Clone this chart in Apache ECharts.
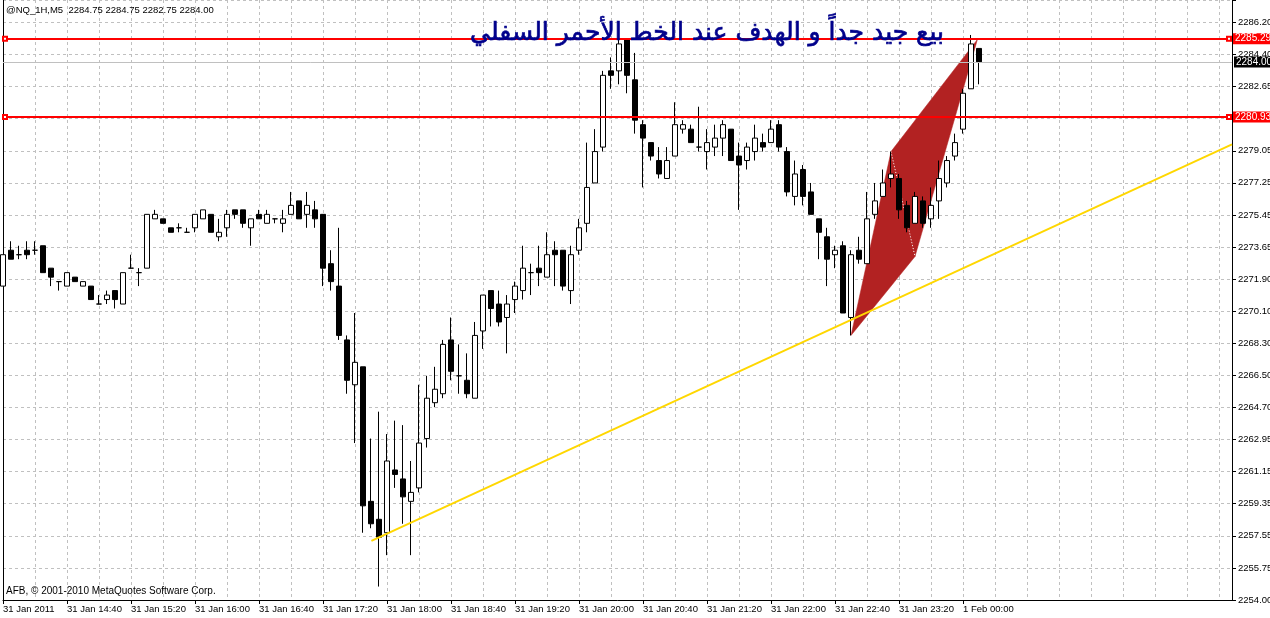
<!DOCTYPE html>
<html><head><meta charset="utf-8">
<script src="https://cdn.jsdelivr.net/npm/echarts@6/dist/echarts.min.js"></script>
<style>html,body{margin:0;padding:0;background:#fff}#c{width:1270px;height:618px}</style>
</head><body><div id="c"></div>
<script>
// ---- data ----
const timeLabels = ['31 Jan 2011','31 Jan 14:40','31 Jan 15:20','31 Jan 16:00','31 Jan 16:40','31 Jan 17:20','31 Jan 18:00','31 Jan 18:40','31 Jan 19:20','31 Jan 20:00','31 Jan 20:40','31 Jan 21:20','31 Jan 22:00','31 Jan 22:40','31 Jan 23:20','1 Feb 00:00'];
const barsPerLabel = 8;

const opens = [
2271.5,2273.5,2273.25,2273.5,2273.5,2273.75,2272.5,2271.75,2271.5,2272.0,
2271.5,2271.5,2270.5,2270.75,2271.25,2270.5,2272.5,2272.25,2272.5,2275.25,
2275.25,2274.75,2274.75,2274.5,2274.75,2275.25,2275.5,2274.25,2274.75,2275.75,
2275.75,2274.75,2275.5,2275.0,2275.25,2275.0,2275.5,2276.25,2275.5,2275.75,
2275.5,2272.75,2271.5,2268.5,2266.0,2267.0,2259.5,2258.5,2257.75,2261.25,
2260.75,2259.5,2260.25,2263.0,2265.0,2265.5,2268.5,2266.5,2266.25,2265.25,
2269.0,2271.25,2270.5,2269.75,2270.75,2271.25,2272.25,2272.5,2272.0,2273.5,
2273.5,2271.25,2273.5,2275.0,2277.25,2279.25,2283.5,2283.5,2285.25,2283.0,
2280.5,2279.5,2278.5,2277.5,2278.75,2280.25,2280.25,2279.25,2279.0,2279.25,
2279.75,2280.25,2278.75,2278.5,2279.0,2279.5,2279.5,2280.5,2279.0,2276.5,
2278.0,2276.75,2275.25,2274.25,2273.25,2273.75,2269.75,2273.5,2272.75,2275.5,
2276.5,2277.5,2277.5,2276.0,2275.0,2276.25,2275.25,2276.25,2277.25,2278.75,
2280.25,2282.5,2284.75];
const highs = [
2273.25,2274.0,2273.75,2274.0,2274.0,2273.75,2272.5,2271.75,2272.25,2272.0,
2271.75,2271.5,2271.0,2271.25,2271.25,2272.25,2273.25,2272.5,2275.5,2275.75,
2275.25,2274.75,2275.0,2274.75,2275.5,2275.75,2275.5,2275.25,2275.75,2275.75,
2275.75,2275.25,2275.75,2275.75,2275.25,2275.75,2276.75,2276.25,2276.75,2276.25,
2275.5,2273.5,2274.75,2268.75,2270.0,2267.0,2263.0,2264.5,2263.25,2264.0,
2263.75,2261.75,2266.0,2266.5,2267.0,2268.5,2269.75,2268.25,2267.75,2269.5,
2271.0,2271.25,2271.25,2271.0,2271.75,2273.75,2272.75,2273.75,2274.5,2274.0,
2273.5,2273.75,2275.25,2279.5,2280.25,2283.5,2284.25,2285.75,2285.25,2284.5,
2280.75,2279.5,2279.25,2279.25,2281.75,2280.75,2280.5,2281.5,2280.25,2280.5,
2280.75,2280.25,2279.5,2279.5,2280.5,2280.0,2280.75,2280.75,2279.25,2278.5,
2278.25,2277.25,2275.25,2274.75,2273.75,2274.0,2273.5,2274.25,2276.75,2277.25,
2278.0,2279.0,2277.75,2276.25,2276.75,2276.5,2277.0,2278.5,2278.75,2280.0,
2282.5,2285.5,2284.75];
const lows = [
2271.5,2273.0,2273.0,2273.0,2273.25,2272.25,2271.5,2271.25,2271.5,2271.75,
2271.5,2270.75,2270.5,2270.5,2270.25,2270.5,2272.5,2271.5,2272.5,2275.25,
2275.0,2274.5,2274.5,2274.5,2274.5,2275.25,2274.5,2274.0,2274.25,2275.25,
2274.75,2273.75,2275.25,2275.0,2275.0,2274.5,2275.5,2275.25,2274.75,2274.75,
2271.5,2271.25,2268.5,2265.5,2262.75,2257.75,2258.0,2254.75,2256.5,2260.25,
2258.25,2256.5,2260.0,2262.5,2264.75,2265.25,2266.25,2265.5,2265.25,2265.25,
2268.0,2269.25,2269.25,2267.75,2270.0,2270.75,2271.0,2271.5,2272.0,2271.5,
2271.25,2270.5,2273.25,2274.5,2277.25,2279.0,2282.5,2282.75,2282.25,2280.0,
2277.0,2278.5,2277.5,2277.5,2278.75,2280.0,2279.5,2279.0,2278.0,2278.75,
2278.75,2278.5,2275.75,2278.0,2278.5,2279.0,2279.5,2279.0,2276.5,2276.0,
2276.0,2275.5,2273.0,2271.5,2272.5,2270.0,2268.75,2272.75,2272.75,2275.25,
2276.5,2277.0,2275.25,2274.5,2275.0,2274.75,2274.75,2275.25,2277.0,2278.5,
2280.0,2282.5,2282.75];
const closes = [
2273.25,2273.0,2273.25,2273.25,2273.5,2272.25,2272.0,2271.75,2272.25,2271.75,
2271.75,2270.75,2270.5,2271.0,2270.75,2272.25,2272.5,2272.25,2275.5,2275.5,
2275.0,2274.5,2274.75,2274.5,2275.5,2275.75,2274.5,2274.5,2275.5,2275.5,
2275.0,2275.25,2275.25,2275.5,2275.25,2275.25,2276.0,2275.25,2276.0,2275.25,
2272.5,2271.75,2268.75,2266.25,2267.25,2259.25,2258.25,2257.5,2261.75,2261.0,
2259.75,2260.0,2262.75,2265.25,2265.75,2268.25,2266.75,2266.5,2265.5,2268.75,
2271.0,2270.25,2269.5,2270.5,2271.5,2272.5,2272.25,2272.25,2273.25,2273.25,
2271.5,2273.25,2274.75,2277.0,2279.0,2283.25,2283.25,2285.0,2283.25,2280.75,
2279.75,2278.75,2277.75,2278.5,2280.5,2280.5,2279.5,2279.25,2279.5,2279.75,
2280.5,2278.5,2278.25,2279.25,2279.75,2279.25,2280.25,2279.25,2276.75,2277.75,
2276.5,2275.5,2274.5,2273.0,2273.5,2270.0,2273.25,2273.0,2275.25,2276.25,
2277.25,2277.75,2275.75,2274.75,2276.5,2275.0,2276.0,2277.5,2278.5,2279.5,
2282.25,2285.0,2284.0];

const yTickLabels = [2254.00,2255.75,2257.55,2259.35,2261.15,2262.95,2264.70,2266.50,2268.30,2270.10,2271.90,2273.65,2275.45,2277.25,2279.05,2280.85,2282.65,2284.40,2286.20];
const levelLines = [2285.29, 2280.93];
const bidPrice = 2284.00;
const trendBars = [46.05, 153.625];
const trendPrices = [2257.3, 2279.4];
const patternBars = [106, 111, 114, 121.8];
const patternPrices = [2268.75, 2279.0, 2273.15, 2285.25];
const patternTriangles = [[0,1,2],[1,2,3]];
const headerText = '@NQ_1H,M5  2284.75 2284.75 2282.75 2284.00';
const titleText = 'بيع جيد جداً و الهدف عند الخط الأحمر السفلي';
const footerText = 'AFB, © 2001-2010 MetaQuotes Software Corp.';

// ---- chart ----
const FONT = "'Liberation Sans', Arial, sans-serif";
const yMin = 2254, yMax = 2287.45;
const yStep = (yTickLabels[yTickLabels.length-1] - yTickLabels[0]) / (yTickLabels.length - 1);
const xMin = 0, xMax = 153.625;
const labelBars = timeLabels.map((_, k) => k * barsPerLabel);
const gridColor = '#C0C0C0';

const chart = echarts.init(document.getElementById('c'), null, {renderer: 'canvas'});
chart.setOption({
  animation: false,
  backgroundColor: '#fff',
  grid: {left: 3, right: 38, top: 0, bottom: 18, containLabel: false, outerBoundsMode: 'none'},
  xAxis: [
    {type: 'value', min: xMin, max: xMax, interval: 4,
     axisLine: {show: true, onZero: false, lineStyle: {color: '#000', width: 1}},
     axisTick: {show: false}, axisLabel: {show: false},
     splitLine: {show: true, lineStyle: {color: gridColor, type: [3, 3], width: 1}}},
    {type: 'value', position: 'bottom', min: xMin, max: xMax, interval: barsPerLabel,
     axisLine: {show: false, onZero: false},
     axisTick: {show: true, length: 4, customValues: labelBars, lineStyle: {color: '#000'}},
     axisLabel: {show: true, customValues: labelBars, align: 'left', margin: 4, color: '#000', fontSize: 9.5, fontFamily: FONT,
       formatter: v => { const k = Math.round(v / barsPerLabel); return timeLabels[k] != null && Math.abs(k*barsPerLabel - v) < 1e-6 ? timeLabels[k] : ''; }},
     splitLine: {show: false}}
  ],
  yAxis: [
    {type: 'value', position: 'right', min: yMin, max: yMax, interval: yStep,
     axisLine: {show: true, onZero: false, lineStyle: {color: '#000', width: 1}},
     axisTick: {show: true, length: 4, lineStyle: {color: '#000'}},
     axisLabel: {show: true, margin: 6, color: '#000', fontSize: 9.5, fontFamily: FONT,
       formatter: v => { const k = Math.round((v - yMin) / yStep); return (yTickLabels[k] != null && Math.abs(yMin + k*yStep - v) < 1e-6) ? yTickLabels[k].toFixed(2) : ''; }},
     splitLine: {show: true, lineStyle: {color: gridColor, type: [3, 3], width: 1}}},
    {type: 'value', position: 'left', min: yMin, max: yMax,
     axisLine: {show: true, onZero: false, lineStyle: {color: '#000', width: 1}},
     axisTick: {show: false}, axisLabel: {show: false}, splitLine: {show: false}}
  ],
  series: [
    {type: 'custom', name: 'pattern', z: 1, silent: true, clip: true,
     data: patternTriangles.map(t => t.flatMap(k => [patternBars[k], patternPrices[k]])),
     encode: {x: [0, 2, 4], y: [1, 3, 5]},
     renderItem: (params, api) => ({
       type: 'polygon',
       shape: {points: [0, 1, 2].map(j => api.coord([api.value(2*j), api.value(2*j+1)]))},
       style: {fill: '#B22222', stroke: '#B22222', lineWidth: 0.5}
     })},
    {type: 'line', name: 'patternEdge', z: 1.5, silent: true, symbol: 'none',
     data: [1, 2].map(k => [patternBars[k], patternPrices[k]]),
     lineStyle: {color: '#fff', width: 1, type: [1, 2]}},
    {type: 'candlestick', name: '@NQ_1H,M5', z: 3, silent: true, barWidth: 5,
     data: opens.map((o, i) => [i, o, closes[i], lows[i], highs[i]]),
     encode: {x: 0, y: [1, 2, 3, 4]},
     itemStyle: {color: '#fff', color0: '#000', borderColor: '#000', borderColor0: '#000', borderColorDoji: '#000', borderWidth: 1}},
    {type: 'line', name: 'trend', z: 4, silent: true, symbol: 'none',
     data: trendBars.map((b, i) => [b, trendPrices[i]]),
     lineStyle: {color: '#FFD700', width: 2},
     markLine: {
       silent: true, animation: false,
       data: [
         ...levelLines.map(lv => [
           {coord: [xMin + 0.25, lv], symbol: 'emptyRect', symbolSize: 4},
           {coord: [xMax - 0.375, lv], symbol: 'emptyRect', symbolSize: 4,
            label: {show: true, position: 'end', distance: 4, formatter: lv.toFixed(2), color: '#fff', backgroundColor: '#FF0000', padding: [1, 2, 0, 2], fontSize: 10, fontFamily: FONT},
            lineStyle: {color: '#FF0000', width: 2, type: 'solid'}}
         ]),
         [{coord: [xMin, bidPrice], symbol: 'none'},
          {coord: [xMax, bidPrice], symbol: 'none',
           label: {show: true, position: 'end', distance: 2, formatter: bidPrice.toFixed(2), color: '#fff', backgroundColor: '#000', padding: [1, 2, 0, 2], fontSize: 10, fontFamily: FONT},
           lineStyle: {color: gridColor, width: 1, type: 'solid'}}]
       ]
     }}
  ],
  graphic: [
    {type: 'text', left: 6, top: 5, z: 10, style: {text: headerText, fill: '#000', font: '9.5px ' + FONT}},
    {type: 'text', x: 707, y: 33, z: 10, style: {text: titleText, fill: '#00008B', stroke: '#00008B', lineWidth: 0.7, font: '25px "DejaVu Sans"', textAlign: 'center', textVerticalAlign: 'middle'}},
    {type: 'text', left: 6, top: 586, z: 10, style: {text: footerText, fill: '#000', font: '10px ' + FONT}}
  ]
});
</script></body></html>
